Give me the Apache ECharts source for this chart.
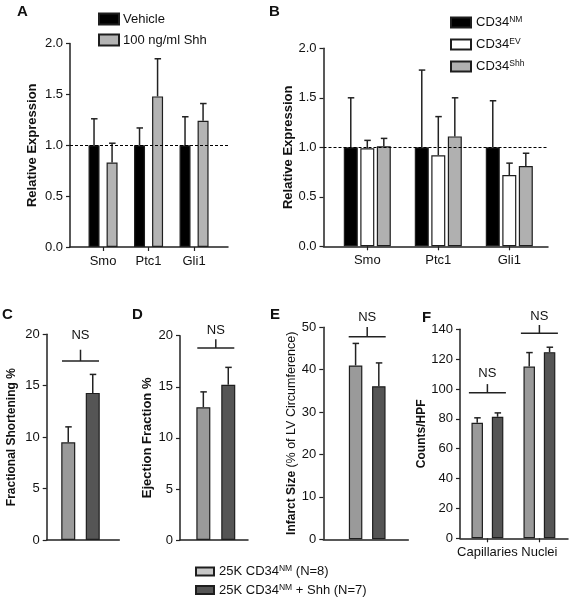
<!DOCTYPE html>
<html>
<head>
<meta charset="utf-8">
<script src="https://cdn.jsdelivr.net/npm/echarts@6/dist/echarts.min.js"></script>
<style>
html,body{margin:0;padding:0;background:#fff;}
#chart{width:576px;height:600px;}
</style>
</head>
<body>
<div id="chart"></div>
<script>
// ---------------- DATA ----------------
// Panel A
const catsA = ['Smo', 'Ptc1', 'Gli1'];
const namesA = ['Vehicle', '100 ng/ml Shh'];
const vehicleA = [1.0, 1.0, 1.0];
const vehicleErrTopA = [1.26, 1.17, 1.28];
const shhA = [0.83, 1.48, 1.24];
const shhErrTopA = [1.02, 1.85, 1.41];
const ticksA = [0, 0.5, 1.0, 1.5, 2.0];
const refLineA = 1.0;

// Panel B
const catsB = ['Smo', 'Ptc1', 'Gli1'];
const namesB = ['CD34NM', 'CD34EV', 'CD34Shh'];
const nmB = [1.0, 1.0, 1.0];
const nmErrTopB = [1.50, 1.78, 1.47];
const evB = [0.99, 0.92, 0.72];
const evErrTopB = [1.07, 1.31, 0.84];
const shhB = [1.01, 1.11, 0.81];
const shhErrTopB = [1.09, 1.50, 0.94];
const ticksB = [0, 0.5, 1.0, 1.5, 2.0];
const refLineB = 1.0;

// Panels C-F (shared groups)
const namesCF = ['25K CD34NM (N=8)', '25K CD34NM + Shh (N=7)'];

// Panel C: Fractional Shortening %
const catsC = [''];
const ctrlC = [9.5];  const ctrlErrTopC = [11.0];
const shhC = [14.3];  const shhErrTopC = [16.1];
const ticksC = [0, 5, 10, 15, 20];
const nsC = [[0, 17.4, 18.5, 19.9]]; // [category, bracket line, stem top, label]

// Panel D: Ejection Fraction %
const catsD = [''];
const ctrlD = [13.0]; const ctrlErrTopD = [14.5];
const shhD = [15.2];  const shhErrTopD = [16.9];
const ticksD = [0, 5, 10, 15, 20];
const nsD = [[0, 18.8, 19.65, 20.5]];

// Panel E: Infarct Size
const catsE = [''];
const ctrlE = [41.0]; const ctrlErrTopE = [46.2];
const shhE = [36.1];  const shhErrTopE = [41.6];
const ticksE = [0, 10, 20, 30, 40, 50];
const nsE = [[0, 47.8, 50.1, 52.4]];

// Panel F: Counts/HPF
const catsF = ['Capillaries', 'Nuclei'];
const ctrlF = [77.4, 115.0]; const ctrlErrTopF = [80.7, 124.4];
const shhF = [81.4, 124.7];  const shhErrTopF = [84.0, 128.0];
const ticksF = [0, 20, 40, 60, 80, 100, 120, 140];
const nsF = [[0, 97.5, 103.3, 110.5], [1, 137.3, 142.9, 148.4]];

// ---------------- STYLE ----------------
const FONT = 'Liberation Sans, Arial, sans-serif';
const INK = '#111';
const AXIS = '#222';
const BORDER = '#1e1e1e';

const option = {
  backgroundColor: '#fff',
  animation: false,
  textStyle: { fontFamily: FONT, color: INK },
  title: [],
  legend: [],
  grid: [],
  xAxis: [],
  yAxis: [],
  series: []
};

function addPanel(p) {
  const gi = option.grid.length;
  const xi = option.xAxis.length;
  const yi = option.yAxis.length;
  option.grid.push({ left: p.frame.left, top: p.frame.top, width: p.frame.width, height: p.frame.height });
  option.grid.push({ left: p.bar.left, top: p.frame.top, width: p.bar.width, height: p.frame.height });
  const ticks = p.ticks;
  option.xAxis.push({
    type: 'value', gridIndex: gi, min: 0, max: 1,
    axisLine: { show: true, onZero: false, lineStyle: { color: AXIS, width: 1.5 } },
    axisTick: { show: false }, axisLabel: { show: false }, splitLine: { show: false }
  });
  option.xAxis.push({
    type: 'category', gridIndex: gi + 1, data: p.cats,
    axisLine: { show: false },
    axisTick: { show: p.showCats, alignWithLabel: true, length: 4, lineStyle: { color: AXIS, width: 1.2 } },
    axisLabel: { show: p.showCats, margin: 8, fontSize: 13, color: INK, fontFamily: FONT, interval: 0 },
    splitLine: { show: false }
  });
  option.yAxis.push({
    type: 'value', gridIndex: gi,
    min: ticks[0], max: ticks[ticks.length - 1], interval: ticks[1] - ticks[0],
    axisLine: { show: true, lineStyle: { color: AXIS, width: 1.5 } },
    axisTick: { show: true, length: 4, lineStyle: { color: AXIS, width: 1.2 } },
    axisLabel: { margin: 7, fontSize: 13, color: INK, fontFamily: FONT, formatter: p.fmt },
    splitLine: { show: false },
    name: p.yName, nameLocation: 'middle', nameRotate: 90, nameGap: p.nameGap,
    nameTextStyle: Object.assign({ fontSize: p.nameSize, fontWeight: 'bold', color: INK, fontFamily: FONT }, p.nameRich ? { rich: p.nameRich } : {})
  });
  option.yAxis.push({
    type: 'value', gridIndex: gi + 1,
    min: ticks[0], max: ticks[ticks.length - 1], show: false
  });
  const n = p.groups.length;
  const step = p.barWidth * (1 + p.barGap);
  p.groups.forEach((g, i) => {
    option.series.push({
      type: 'bar', name: g.name, xAxisIndex: xi + 1, yAxisIndex: yi + 1,
      data: g.values, barWidth: p.barWidth, barGap: (p.barGap * 100) + '%',
      itemStyle: { color: g.color, borderColor: BORDER, borderWidth: 1.2 },
      z: 3
    });
    const off = (i - (n - 1) / 2) * step;
    option.series.push({
      type: 'custom', xAxisIndex: xi + 1, yAxisIndex: yi + 1, z: 2,
      silent: true,
      data: g.values.map((v, k) => [k, g.err[k], v]),
      encode: { x: 0, y: [1, 2] },
      renderItem: function (params, api) {
        const c = api.value(0);
        const pb = api.coord([c, api.value(2)]);
        const pt = api.coord([c, api.value(1)]);
        const x = pb[0] + off;
        return {
          type: 'group', children: [
            { type: 'line', shape: { x1: x, y1: pb[1], x2: x, y2: pt[1] }, style: { stroke: AXIS, lineWidth: 1.5 } },
            { type: 'line', shape: { x1: x - 3, y1: pt[1], x2: x + 3.5, y2: pt[1] }, style: { stroke: AXIS, lineWidth: 1.5 } }
          ]
        };
      }
    });
  });
  if (p.refLine != null) {
    option.series.push({
      type: 'line', xAxisIndex: xi, yAxisIndex: yi, data: [], silent: true,
      markLine: {
        silent: true, symbol: 'none', label: { show: false },
        lineStyle: { color: '#000', type: [3, 2], width: 1 },
        data: [{ yAxis: p.refLine }]
      }
    });
  }
  if (p.ns) {
    const hw = p.nsHalf;
    option.series.push({
      type: 'custom', xAxisIndex: xi + 1, yAxisIndex: yi + 1, z: 4, silent: true,
      data: p.ns,
      encode: { x: 0, y: [1, 2, 3] },
      renderItem: function (params, api) {
        const c = api.value(0);
        const pl = api.coord([c, api.value(1)]);
        const ps = api.coord([c, api.value(2)]);
        const pn = api.coord([c, api.value(3)]);
        return {
          type: 'group', children: [
            { type: 'line', shape: { x1: pl[0] - hw, y1: pl[1], x2: pl[0] + hw, y2: pl[1] }, style: { stroke: AXIS, lineWidth: 1.5 } },
            { type: 'line', shape: { x1: pl[0], y1: pl[1], x2: pl[0], y2: ps[1] }, style: { stroke: AXIS, lineWidth: 1.5 } },
            { type: 'text', x: pl[0], y: pn[1], style: { text: 'NS', fill: INK, font: '13px ' + FONT, align: 'center', verticalAlign: 'middle' } }
          ]
        };
      }
    });
  }
}

const fmt1 = v => v.toFixed(1);
const fmt0 = v => String(v);

addPanel({
  frame: { left: 70, top: 43.5, width: 158, height: 203.5 },
  bar: { left: 80.3, width: 136.5 },
  ticks: ticksA, fmt: fmt1, cats: catsA, showCats: true,
  yName: 'Relative Expression', nameGap: 31, nameSize: 13,
  barWidth: 11, barGap: 0.64,
  groups: [
    { name: namesA[0], values: vehicleA, err: vehicleErrTopA, color: '#000' },
    { name: namesA[1], values: shhA, err: shhErrTopA, color: '#b4b4b4' }
  ],
  refLine: refLineA
});

addPanel({
  frame: { left: 323.5, top: 48.3, width: 224.5, height: 198 },
  bar: { left: 331.8, width: 213 },
  ticks: ticksB, fmt: fmt1, cats: catsB, showCats: true,
  yName: 'Relative Expression', nameGap: 26.5, nameSize: 13,
  barWidth: 14, barGap: 0.18,
  groups: [
    { name: namesB[0], values: nmB, err: nmErrTopB, color: '#000' },
    { name: namesB[1], values: evB, err: evErrTopB, color: '#fff' },
    { name: namesB[2], values: shhB, err: shhErrTopB, color: '#b0b0b0' }
  ],
  refLine: refLineB
});

const LIGHT = '#9a9a9a', DARK = '#555555';

addPanel({
  frame: { left: 46.7, top: 334.3, width: 72.6, height: 205.7 },
  bar: { left: 60.5, width: 40 },
  ticks: ticksC, fmt: fmt0, cats: catsC, showCats: false,
  yName: 'Fractional Shortening %', nameGap: 29, nameSize: 12,
  barWidth: 14, barGap: 0.75,
  groups: [
    { name: namesCF[0], values: ctrlC, err: ctrlErrTopC, color: LIGHT },
    { name: namesCF[1], values: shhC, err: shhErrTopC, color: DARK }
  ],
  ns: nsC, nsHalf: 18.5
});

addPanel({
  frame: { left: 180, top: 335.7, width: 68, height: 204.3 },
  bar: { left: 195.8, width: 40 },
  ticks: ticksD, fmt: fmt0, cats: catsD, showCats: false,
  yName: 'Ejection Fraction %', nameGap: 26.5, nameSize: 13,
  barWidth: 14, barGap: 0.78,
  groups: [
    { name: namesCF[0], values: ctrlD, err: ctrlErrTopD, color: LIGHT },
    { name: namesCF[1], values: shhD, err: shhErrTopD, color: DARK }
  ],
  ns: nsD, nsHalf: 18.5
});

addPanel({
  frame: { left: 323.3, top: 327.3, width: 85, height: 212 },
  bar: { left: 347.2, width: 40 },
  ticks: ticksE, fmt: fmt0, cats: catsE, showCats: false,
  yName: '{b|Infarct Size} {n|(% of LV Circumference)}', nameGap: 24, nameSize: 12,
  nameRich: { b: { fontSize: 12, fontWeight: 'bold', color: INK, fontFamily: FONT }, n: { fontSize: 12.5, fontWeight: 'normal', color: INK, fontFamily: FONT } },
  barWidth: 13.5, barGap: 0.72,
  groups: [
    { name: namesCF[0], values: ctrlE, err: ctrlErrTopE, color: LIGHT },
    { name: namesCF[1], values: shhE, err: shhErrTopE, color: DARK }
  ],
  ns: nsE, nsHalf: 18.5
});

addPanel({
  frame: { left: 460, top: 329.3, width: 108, height: 209 },
  bar: { left: 461.4, width: 104 },
  ticks: ticksF, fmt: fmt0, cats: catsF, showCats: true,
  yName: 'Counts/HPF', nameGap: 28, nameSize: 12,
  barWidth: 11.5, barGap: 0.77,
  groups: [
    { name: namesCF[0], values: ctrlF, err: ctrlErrTopF, color: LIGHT },
    { name: namesCF[1], values: shhF, err: shhErrTopF, color: DARK }
  ],
  ns: nsF, nsHalf: 18.5
});

const letters = [['A', 17, 4], ['B', 269, 4], ['C', 2, 307], ['D', 132, 307], ['E', 270, 307], ['F', 422, 310]];
option.title = letters.map(l => ({
  text: l[0], left: l[1], top: l[2], padding: 0,
  textStyle: { fontSize: 15, fontWeight: 'bold', color: INK, fontFamily: FONT }
}));

const supFmt = (base, sup, rest) => '{a|' + base + '}{s|' + sup + '}' + (rest ? '{a|' + rest + '}' : '');
const richSup = {
  a: { fontSize: 13, lineHeight: 14, color: INK, fontFamily: FONT },
  s: { fontSize: 8.5, lineHeight: 8, verticalAlign: 'top', color: INK, fontFamily: FONT }
};
option.legend = [
  {
    data: namesA, orient: 'vertical', left: 98, top: 12.5, padding: 0, icon: 'rect',
    itemWidth: 20, itemHeight: 11, itemGap: 8, selectedMode: false,
    textStyle: { fontSize: 13, color: INK, fontFamily: FONT, padding: [0, 0, 0, -1] }
  },
  {
    data: namesB, orient: 'vertical', left: 450, top: 15.5, padding: 0, icon: 'rect',
    itemWidth: 20, itemHeight: 10, itemGap: 8.5, selectedMode: false,
    formatter: n => supFmt('CD34', n.slice(4)),
    textStyle: { color: INK, fontFamily: FONT, rich: richSup }
  },
  {
    data: [
      { name: namesCF[0], itemStyle: { color: '#c8c8c8' } },
      { name: namesCF[1], itemStyle: { color: '#555555' } }
    ],
    orient: 'vertical', left: 195, top: 564.5, height: 60, width: 250, padding: 0, icon: 'rect',
    itemWidth: 18, itemHeight: 8, itemGap: 5, selectedMode: false,
    formatter: n => n === namesCF[0] ? supFmt('25K CD34', 'NM', ' (N=8)') : supFmt('25K CD34', 'NM', ' + Shh (N=7)'),
    textStyle: { color: INK, fontFamily: FONT, rich: richSup }
  }
];

const chart = echarts.init(document.getElementById('chart'), null, { renderer: 'canvas' });
chart.setOption(option);
</script>
</body>
</html>
